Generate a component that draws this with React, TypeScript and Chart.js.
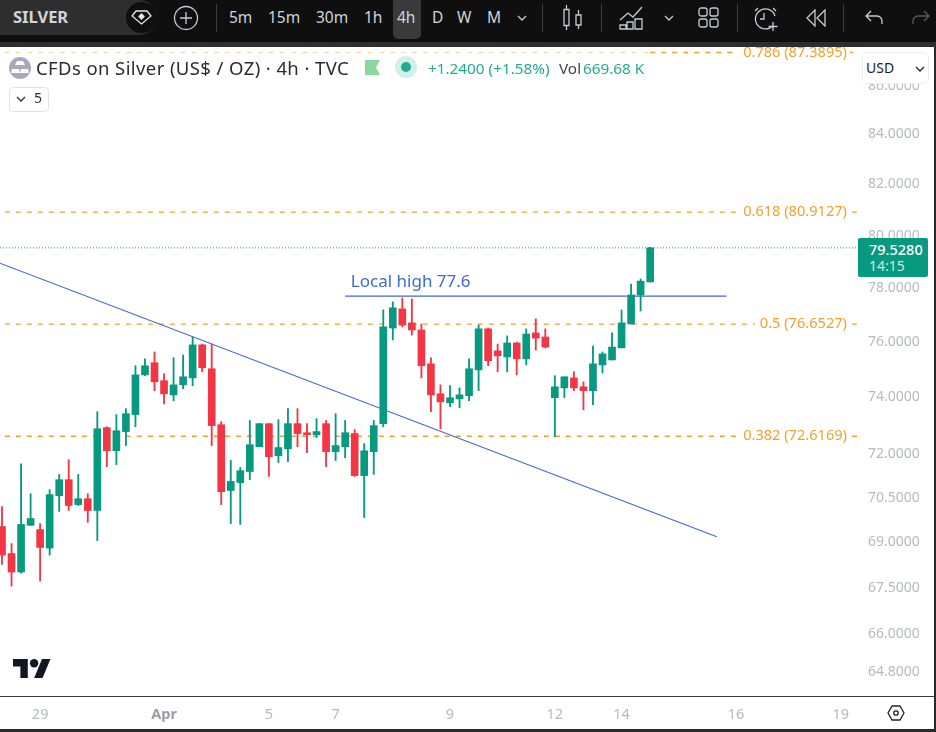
import { useEffect, useRef } from "react"
import type { CSSProperties, ReactNode } from "react"
import Chart from "chart.js/auto"

// 4h candles
const opens = [
  69.52, 68.62, 68.01, 69.56, 69.42, 68.8, 70.56, 71.11, 70.26, 70.46,
  70.06, 72.92, 72.11, 72.78, 73.38, 74.8, 75.24, 74.59, 74.08, 74.44,
  74.69, 75.89, 75.02, 73.02, 70.74, 71.01, 71.39, 72.25, 73.06, 71.94,
  72.18, 73.06, 72.74, 72.67, 73.06, 72.08, 72.25, 72.71, 71.25, 72.08,
  73.06, 76.51, 77.22, 76.7, 76.44, 75.2, 74.12, 73.8, 73.94, 74.05,
  74.98, 76.48, 75.67, 75.45, 75.96, 75.38, 76.33, 76.18, 73.98, 74.33,
  74.69, 74.37, 74.23, 75.16, 75.34, 75.78, 76.66, 77.74, 78.23,
]
const highs = [
  70.19, 68.95, 71.66, 70.63, 69.62, 70.77, 71.29, 71.8, 71.29, 70.63,
  73.48, 72.95, 73.38, 73.59, 75.13, 75.38, 75.63, 74.84, 75.42, 75.52,
  76.18, 75.92, 75.92, 73.13, 71.77, 71.53, 73.17, 73.06, 73.06, 73.2,
  73.59, 73.59, 73.06, 73.24, 73.17, 73.41, 73.17, 72.85, 72.36, 73.17,
  77.18, 77.48, 77.63, 77.59, 76.66, 75.42, 74.44, 74.41, 74.33, 75.38,
  76.62, 76.51, 75.92, 76.22, 75.99, 76.48, 76.85, 76.48, 74.77, 74.73,
  74.91, 74.55, 75.85, 75.63, 76.33, 77.18, 78.15, 78.34, 79.55,
]
const lows = [
  68.26, 67.55, 67.97, 69.56, 67.71, 68.57, 70.03, 70.06, 70.23, 69.66,
  69.05, 71.56, 71.63, 72.29, 72.95, 74.77, 74.23, 73.76, 73.87, 74.3,
  74.41, 74.91, 72.29, 70.26, 69.62, 69.59, 71.11, 72.25, 71.22, 71.7,
  71.73, 72.25, 72.04, 72.57, 71.56, 71.77, 71.87, 71.22, 69.82, 71.29,
  72.95, 76.07, 76.55, 76.25, 74.69, 73.48, 72.88, 73.66, 73.62, 73.87,
  74.23, 75.13, 74.91, 74.91, 74.8, 75.16, 75.7, 75.78, 72.6, 73.98,
  74.23, 73.55, 73.73, 74.87, 75.34, 75.78, 76.66, 77.14, 78.23,
]
const closes = [
  68.57, 68.01, 69.59, 69.79, 68.82, 70.6, 71.11, 70.23, 70.46, 70.06,
  72.88, 72.11, 72.81, 73.41, 74.8, 75.13, 74.55, 74.12, 74.44, 74.73,
  75.89, 75.06, 72.99, 70.7, 71.05, 71.42, 72.32, 73.06, 71.9, 72.22,
  73.06, 72.71, 72.67, 72.78, 72.08, 72.29, 72.74, 71.25, 72.11, 72.99,
  76.55, 77.26, 76.62, 76.44, 75.13, 74.08, 73.83, 73.98, 74.08, 75.02,
  76.48, 75.31, 75.49, 75.96, 75.38, 76.29, 76.14, 75.81, 74.37, 74.73,
  74.33, 74.23, 75.2, 75.56, 75.81, 76.7, 77.74, 78.26, 79.528,
]

const priceTicks = [86, 84, 82, 80, 78, 76, 74, 72, 70.5, 69, 67.5, 66, 64.8]
const dateTickIndex = [4, 17, 28, 35, 47, 58, 65, 77, 88]
const dateTickLabels = ["29", "Apr", "5", "7", "9", "12", "14", "16", "19"]

const fibLevels = [87.3895, 80.9127, 76.6527, 72.6169]
const fibLabels = ["0.786 (87.3895)", "0.618 (80.9127)", "0.5 (76.6527)", "0.382 (72.6169)"]

const trendX = [-0.21, 75]
const trendY = [78.94, 69.18]
const localHighX = [36, 76]
const localHighY = [77.7, 77.7]
const lastPrice = 79.528

const GREEN = "#089981"
const RED = "#f23645"
const ORANGE = "#f5a02c"
const BLUE = "#3f69d6"
const FONT = '"Noto Sans", sans-serif'

const X_MIN = -0.21
const X_MAX = 89.7

const candleColors = opens.map((o, i) => (closes[i] >= o ? GREEN : RED))

// fib labels and the "Local high" note sit on the chart itself
const drawingLabels = {
  id: "drawingLabels",
  afterDatasetsDraw(chart: any) {
    const { ctx, scales } = chart
    ctx.save()
    ctx.textBaseline = "middle"
    ctx.font = `14.6px ${FONT}`
    fibLevels.forEach((level, i) => {
      const y = scales.y.getPixelForValue(level)
      const w = ctx.measureText(fibLabels[i]).width
      ctx.fillStyle = "#fff"
      ctx.fillRect(847 - w - 5, y - 9, w + 8, 18)
      ctx.fillStyle = ORANGE
      ctx.textAlign = "right"
      ctx.fillText(fibLabels[i], 847, y)
    })
    ctx.font = `17px ${FONT}`
    ctx.textAlign = "left"
    ctx.fillStyle = BLUE
    ctx.fillText("Local high 77.6", scales.x.getPixelForValue(36.6), scales.y.getPixelForValue(78.23))
    ctx.restore()
  },
}

function SilverChart() {
  const canvasRef = useRef<HTMLCanvasElement>(null)

  useEffect(() => {
    if (!canvasRef.current) return

    const lineBase = { type: "line" as const, pointRadius: 0, borderWidth: 1.2, order: 3, fill: false }
    const chart = new Chart(canvasRef.current, {
      type: "bar",
      data: {
        datasets: [
          {
            ...lineBase,
            data: trendX.map((x, i) => ({ x, y: trendY[i] })),
            borderColor: BLUE,
          },
          {
            ...lineBase,
            data: localHighX.map((x, i) => ({ x, y: localHighY[i] })),
            borderColor: BLUE,
          },
          {
            ...lineBase,
            data: [{ x: X_MIN, y: lastPrice }, { x: X_MAX, y: lastPrice }],
            borderColor: GREEN,
            borderWidth: 1,
            borderDash: [1, 2],
          },
          // the top level runs pale under the legend, full colour after it
          {
            ...lineBase,
            data: [{ x: 0.3, y: fibLevels[0] }, { x: 68, y: fibLevels[0] }],
            borderColor: "#f9d7a8",
            borderWidth: 1,
            borderDash: [5, 6],
          },
          ...fibLevels.map((level, i) => ({
            ...lineBase,
            data: [{ x: i === 0 ? 68 : 0.3, y: level }, { x: X_MAX, y: level }],
            borderColor: ORANGE,
            borderWidth: 1.3,
            borderDash: [5, 6],
          })),
          {
            type: "bar" as const,
            data: opens.map((_, i) => ({ x: i, y: [lows[i], highs[i]] })),
            backgroundColor: candleColors,
            barThickness: 1.2,
            grouped: false,
            order: 2,
          },
          {
            type: "bar" as const,
            data: opens.map((o, i) => ({ x: i, y: [o, closes[i]] })),
            backgroundColor: candleColors,
            barThickness: 7,
            grouped: false,
            order: 1,
          },
        ] as any,
      },
      options: {
        responsive: false,
        animation: false,
        layout: { padding: { top: 48 } },
        plugins: { legend: { display: false }, tooltip: { enabled: false } },
        scales: {
          x: {
            type: "linear",
            min: X_MIN,
            max: X_MAX,
            offset: false,
            grid: { display: false, offset: false },
            border: { display: false },
            afterFit: (scale: any) => {
              scale.height = 35
            },
            afterBuildTicks: (scale: any) => {
              scale.ticks = dateTickIndex.map((value) => ({ value }))
            },
            ticks: {
              autoSkip: false,
              maxRotation: 0,
              padding: 1,
              color: (c: any) => (c.tick?.value === 17 ? "#9a9da6" : "#b7b9c0"),
              font: (c: any) => ({
                family: FONT,
                size: 14.5,
                weight: c.tick?.value === 17 ? "bold" : "normal",
              }),
              callback: (value: any) => dateTickLabels[dateTickIndex.indexOf(Number(value))] ?? "",
            },
          },
          y: {
            type: "logarithmic",
            position: "right",
            min: 64.03,
            max: 87.58,
            grid: { display: false },
            border: { display: false },
            afterFit: (scale: any) => {
              scale.width = 79
            },
            afterBuildTicks: (scale: any) => {
              scale.ticks = priceTicks.map((value) => ({ value }))
            },
            ticks: {
              autoSkip: false,
              padding: 3,
              color: "#b7b9c0",
              font: { family: FONT, size: 14 },
              callback: (value: any) => Number(value).toFixed(4),
            },
          },
        },
      } as any,
      plugins: [drawingLabels],
    })

    return () => chart.destroy()
  }, [])

  return <canvas ref={canvasRef} width={936} height={732} style={{ display: "block" }}></canvas>
}

const place = (left: number, top: number, extra: CSSProperties = {}): CSSProperties => ({
  position: "absolute",
  left,
  top,
  whiteSpace: "nowrap",
  ...extra,
})

function Label({ x, y, size = 15.5, color = "#d1d4dc", weight = 400, spacing = 0, children }: {
  x: number
  y: number
  size?: number
  color?: string
  weight?: number
  spacing?: number
  children: ReactNode
}) {
  return (
    <span
      style={place(x, y, {
        fontSize: size,
        color,
        fontWeight: weight,
        letterSpacing: spacing,
        lineHeight: "20px",
        fontFamily: FONT,
      })}
    >
      {children}
    </span>
  )
}

function Icon({ x, y, w, h, box, color = "#c8cad0", width = 1.3, children }: {
  x: number
  y: number
  w: number
  h: number
  box?: string
  color?: string
  width?: number
  children: ReactNode
}) {
  return (
    <svg
      style={place(x, y)}
      width={w}
      height={h}
      viewBox={box ?? `0 0 ${w} ${h}`}
      fill="none"
      stroke={color}
      strokeWidth={width}
    >
      {children}
    </svg>
  )
}

const Separator = ({ x }: { x: number }) => (
  <div style={place(x, 4, { width: 1, height: 28, background: "#3c3c3c" })} />
)

const Chevron = ({ x, y, color = "#c8cad0" }: { x: number; y: number; color?: string }) => (
  <Icon x={x} y={y} w={10} h={6} color={color}>
    <path d="M1 1l4 4 4-4" />
  </Icon>
)

function Toolbar() {
  return (
    <>
      <div style={place(0, 0, { width: 936, height: 42, background: "#0f0f0f" })} />
      <div style={place(0, 42, { width: 936, height: 5, background: "#2e2e2e" })} />
      <div style={place(0, 0, { width: 157, height: 35, background: "#2e2e2e", borderRadius: "0 18px 18px 0" })} />
      <Label x={13} y={7} size={16.5} weight={700}>SILVER</Label>
      <div style={place(126, 2, { width: 31, height: 31, borderRadius: 16, background: "#0f0f0f" })} />
      <Icon x={131} y={9} w={21} h={17} color="#e8e8e8">
        <path d="M5 2h11l4 5-9.500 8L1 7z" />
        <path d="M10.500 5l2.500 2.500-2.500 2.500-2.500-2.500z" fill="#e8e8e8" />
      </Icon>
      <Icon x={173} y={5} w={26} h={26}>
        <circle cx="13" cy="13" r="11.500" />
        <path d="M13 7v12M7 13h12" />
      </Icon>
      <Separator x={216} />
      <Label x={229} y={7}>5m</Label>
      <Label x={268} y={7}>15m</Label>
      <Label x={316} y={7}>30m</Label>
      <Label x={364} y={7}>1h</Label>
      <div style={place(393, 0, { width: 28, height: 39, background: "#3a3a3a", borderRadius: "0 0 5px 5px" })} />
      <Label x={397} y={7}>4h</Label>
      <Label x={432} y={7}>D</Label>
      <Label x={457} y={7}>W</Label>
      <Label x={487} y={7}>M</Label>
      <Chevron x={517} y={15} />
      <Separator x={542} />
      <Icon x={563} y={4} w={20} h={27}>
        <path d="M1 5.500h5v16H1zM3.500 1v4.500M3.500 21.500V26M13 11h5v10h-5zM15.500 6v5M15.500 21v4" />
      </Icon>
      <Separator x={601} />
      <Icon x={619} y={5} w={26} h={25}>
        <path d="M1 15L9 8l5 4L23 2" />
        <path d="M1 24v-4h6v4zM8 24v-7h6v7zM16 24v-10h7v10z" />
      </Icon>
      <Chevron x={664} y={15} />
      <Icon x={698} y={7} w={21} h={21}>
        <rect x="1" y="1" width="8" height="8" rx="2" />
        <rect x="12" y="1" width="8" height="8" rx="2" />
        <rect x="1" y="12" width="8" height="8" rx="2" />
        <rect x="12" y="12" width="8" height="8" rx="2" />
      </Icon>
      <Separator x={737} />
      <Icon x={753} y={5} w={27} h={27}>
        <path d="M20 20.500A10 10 0 1 1 22 11M2 6l3-3M20 3l3 3M11 8v6H7M20 17v9M15.500 21.500h9" />
      </Icon>
      <Icon x={805} y={9} w={22} h={18}>
        <path d="M10 1L2 9l8 8zM20 1l-8 8 8 8z" />
      </Icon>
      <Separator x={843} />
      <Icon x={864} y={9} w={20} h={17}>
        <path d="M7 2L2 7l5 5M2 7h11a5 5 0 0 1 5 5v3" />
      </Icon>
      <Icon x={911} y={9} w={20} h={17} color="#5a5a5a">
        <path d="M13 2l5 5-5 5M18 7H7a5 5 0 0 0-5 5v3" />
      </Icon>
    </>
  )
}

function Legend() {
  return (
    <>
      <Icon x={9} y={57} w={22} h={22} color="none">
        <circle cx="11" cy="11" r="11" fill="#a9a8b8" />
        <path d="M8 4h6l2 4H6zM3 12h7l1 4H2zM12 12h7l1 4h-9z" fill="#fff" />
      </Icon>
      <Label x={36} y={58} size={18.5} spacing={0.4} color="#2b2b33">CFDs on Silver (US$ / OZ) · 4h · TVC</Label>
      <Icon x={365} y={60} w={15} h={15} color="none">
        <path d="M0 0h15l-4 7.500 4 7.500H0z" fill="#8ed6a0" />
      </Icon>
      <Icon x={395} y={56} w={22} h={22} color="none">
        <circle cx="11" cy="11" r="11" fill="#d3efea" />
        <circle cx="11" cy="11" r="5" fill="#22ab94" />
      </Icon>
      <Label x={428} y={58} size={15.3} color="#22ab94">+1.2400 (+1.58%)</Label>
      <Label x={559} y={58} size={15.3} color="#444">Vol</Label>
      <Label x={583} y={58} size={15.3} color="#22ab94">669.68 K</Label>
      <div style={place(9, 87, { width: 38, height: 23, border: "1px solid #e0e3eb", borderRadius: 4, background: "#fff" })} />
      <Chevron x={16} y={96} color="#333" />
      <Label x={34} y={88} size={14} color="#333">5</Label>
    </>
  )
}

function PriceAxisOverlay() {
  return (
    <>
      <div style={place(862, 52, { width: 65, height: 30, border: "1px solid #eceef2", borderRadius: 5, background: "#fff" })} />
      <Label x={866} y={58} size={14} color="#222">USD</Label>
      <Chevron x={915} y={66} color="#222" />
      <div style={place(858, 238, { width: 70, height: 39, background: GREEN, borderRadius: 2 })} />
      <Label x={869} y={239} size={14.5} color="#fff" weight={500}>{lastPrice.toFixed(4)}</Label>
      <Label x={869} y={256} size={14} color="#c6ece3">14:15</Label>
    </>
  )
}

function Frame() {
  return (
    <>
      <div style={place(0, 696, { width: 934, height: 1, background: "#3a3a3a" })} />
      <div style={place(0, 729, { width: 936, height: 3, background: "#2a2a2a" })} />
      <div style={place(934, 47, { width: 2, height: 685, background: "#2a2a2a" })} />
      <svg style={place(13, 659)} width={38} height={19} viewBox="0 4 36 18" fill="#131722">
        <path d="M14 22H7V11H0V4h14v18zM28 22h-8l7.500-18h8L28 22z" />
        <circle cx="20" cy="8" r="4" />
      </svg>
      <Icon x={887} y={704} w={18} h={18} color="#222">
        <path d="M5 2h8l4 7-4 7H5L1 9z" />
        <circle cx="9" cy="9" r="2.200" />
      </Icon>
    </>
  )
}

export default function App() {
  return (
    <div style={{ position: "fixed", left: 0, top: 0, width: 936, height: 732, overflow: "hidden", background: "#fff" }}>
      <SilverChart />
      <Toolbar />
      <Legend />
      <PriceAxisOverlay />
      <Frame />
    </div>
  )
}
